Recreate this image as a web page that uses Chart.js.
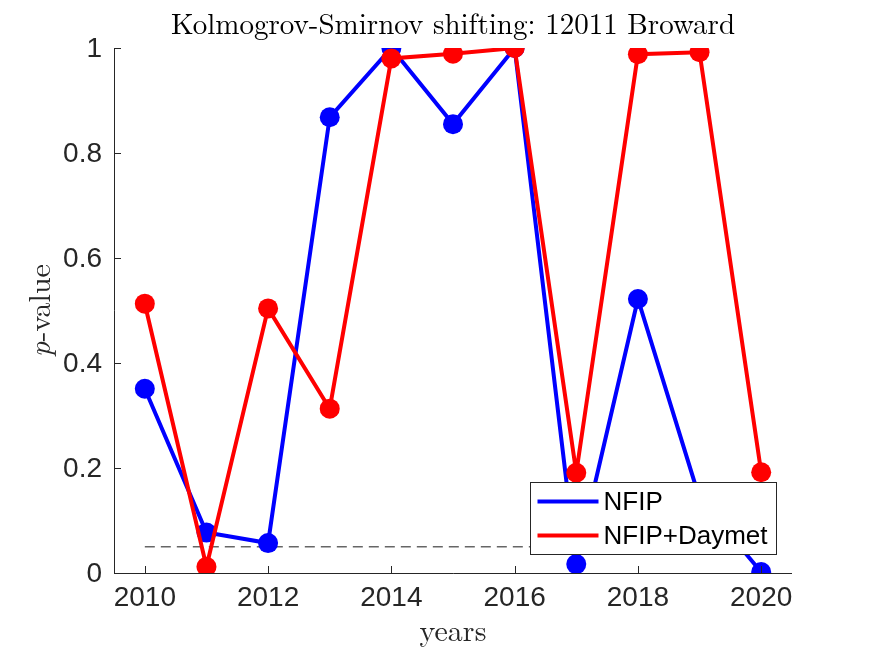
<!DOCTYPE html>
<html>
<head>
<meta charset="utf-8">
<script src="https://cdn.jsdelivr.net/npm/chart.js@4.4.0/dist/chart.umd.min.js"></script>
<style>
  html, body { margin: 0; padding: 0; background: #fff; }
  #wrap { width: 875px; height: 656px; }
</style>
</head>
<body>
<div id="wrap"><canvas id="c" width="875" height="656"></canvas></div>
<script>
const years = [2010, 2011, 2012, 2013, 2014, 2015, 2016, 2017, 2018, 2019, 2020];
const nfip = [0.351, 0.077, 0.057, 0.868, 1.0, 0.855, 1.0, 0.017, 0.522, 0.142, 0.002];
const nfipDaymet = [0.513, 0.012, 0.504, 0.313, 0.980, 0.989, 1.0, 0.191, 0.988, 0.992, 0.192];
const thresholdLevel = [0.05, 0.05];
const thresholdYears = [2010, 2020];
const xTicks = [2010, 2012, 2014, 2016, 2018, 2020];
const yTicks = [0, 0.2, 0.4, 0.6, 0.8, 1];
const yTickLabels = ['0', '0.2', '0.4', '0.6', '0.8', '1'];
const titleText = 'Kolmogrov-Smirnov shifting: 12011 Broward';
const xLabel = 'years';
const yLabelItalic = 'p';
const yLabelRest = '-value';
const seriesNames = ['NFIP', 'NFIP+Daymet'];

const AXIS = '#262626';
const SANS = '"Liberation Sans", Arial, sans-serif';
const SERIF = '"Latin Modern Roman", "CMU Serif", "DejaVu Serif", "Liberation Serif", serif';

const toXY = (xs, ys) => xs.map((x, i) => ({x: x, y: ys[i]}));

const decor = {
  id: 'decor',
  afterDraw(chart) {
    const ctx = chart.ctx;
    const a = chart.chartArea;
    const xs = chart.scales.x, ys = chart.scales.y;
    ctx.save();
    // axes lines
    ctx.strokeStyle = AXIS; ctx.lineWidth = 1;
    ctx.beginPath();
    ctx.moveTo(a.left + 0.5, a.top); ctx.lineTo(a.left + 0.5, a.bottom + 0.5);
    ctx.lineTo(a.right, a.bottom + 0.5);
    ctx.stroke();
    // inward ticks
    ctx.beginPath();
    xTicks.forEach(v => { const px = Math.round(xs.getPixelForValue(v)) + 0.5; ctx.moveTo(px, a.bottom); ctx.lineTo(px, a.bottom - 7); });
    yTicks.forEach(v => { const py = Math.round(ys.getPixelForValue(v)) + 0.5; ctx.moveTo(a.left, py); ctx.lineTo(a.left + 7, py); });
    ctx.stroke();
    // tick labels
    ctx.fillStyle = AXIS;
    ctx.font = '28px ' + SANS;
    ctx.textAlign = 'center'; ctx.textBaseline = 'top';
    xTicks.forEach(v => ctx.fillText(String(v), xs.getPixelForValue(v), a.bottom + 11));
    ctx.textAlign = 'right'; ctx.textBaseline = 'middle';
    yTicks.forEach((v, i) => ctx.fillText(yTickLabels[i], a.left - 12, ys.getPixelForValue(v) + 1));
    // title
    ctx.fillStyle = '#000';
    ctx.font = '29px ' + SERIF;
    ctx.textAlign = 'center'; ctx.textBaseline = 'alphabetic';
    ctx.fillText(titleText, (a.left + a.right) / 2, 34);
    // x label
    ctx.fillStyle = AXIS;
    ctx.font = '30px ' + SERIF;
    ctx.fillText(xLabel, (a.left + a.right) / 2, 641);
    // y label
    ctx.save();
    ctx.translate(50, (a.top + a.bottom) / 2);
    ctx.rotate(-Math.PI / 2);
    ctx.font = 'italic 30px ' + SERIF;
    const w1 = ctx.measureText(yLabelItalic).width;
    ctx.font = '30px ' + SERIF;
    const w2 = ctx.measureText(yLabelRest).width;
    const start = -(w1 + w2) / 2;
    ctx.textAlign = 'left';
    ctx.font = 'italic 30px ' + SERIF;
    ctx.fillText(yLabelItalic, start, 0);
    ctx.font = '30px ' + SERIF;
    ctx.fillText(yLabelRest, start + w1, 0);
    ctx.restore();
    // legend
    const lx = 530.5, ly = 482.5, lw = 246, lh = 72;
    ctx.fillStyle = '#fff';
    ctx.fillRect(lx, ly, lw, lh);
    ctx.strokeStyle = AXIS; ctx.lineWidth = 1;
    ctx.strokeRect(lx, ly, lw, lh);
    const ds = chart.data.datasets;
    [0, 1].forEach(i => {
      const yy = ly + 19 + i * 34;
      ctx.strokeStyle = ds[i].borderColor; ctx.lineWidth = 4;
      ctx.beginPath(); ctx.moveTo(lx + 7, yy); ctx.lineTo(lx + 68, yy); ctx.stroke();
      ctx.fillStyle = '#000';
      ctx.font = '26px ' + SANS;
      ctx.textAlign = 'left'; ctx.textBaseline = 'middle';
      ctx.fillText(ds[i].label, lx + 73, yy + 1);
    });
    ctx.restore();
  }
};

new Chart(document.getElementById('c'), {
  type: 'line',
  data: {
    datasets: [
      {
        label: seriesNames[0],
        data: toXY(years, nfip),
        borderColor: '#0000ff', backgroundColor: '#0000ff',
        borderWidth: 4, pointRadius: 10, pointBorderWidth: 0,
        pointBackgroundColor: '#0000ff', tension: 0, order: 2
      },
      {
        label: seriesNames[1],
        data: toXY(years, nfipDaymet),
        borderColor: '#ff0000', backgroundColor: '#ff0000',
        borderWidth: 4, pointRadius: 10, pointBorderWidth: 0,
        pointBackgroundColor: '#ff0000', tension: 0, order: 1
      },
      {
        label: 'threshold',
        data: toXY(thresholdYears, thresholdLevel),
        borderColor: '#666666', borderWidth: 1.5, borderDash: [10, 6],
        pointRadius: 0, order: 3
      }
    ]
  },
  options: {
    responsive: false,
    animation: false,
    layout: { padding: { left: 0, right: 83, top: 48, bottom: 0 } },
    plugins: { legend: { display: false }, title: { display: false }, tooltip: { enabled: false } },
    scales: {
      x: {
        type: 'linear', min: 2009.5, max: 2020.5,
        grid: { display: false, drawTicks: false },
        border: { display: false },
        ticks: { display: false },
        afterBuildTicks: s => { s.ticks = xTicks.map(v => ({value: v})); },
        afterFit: s => { s.height = 83; }
      },
      y: {
        type: 'linear', min: 0, max: 1,
        grid: { display: false, drawTicks: false },
        border: { display: false },
        ticks: { display: false },
        afterBuildTicks: s => { s.ticks = yTicks.map(v => ({value: v})); },
        afterFit: s => { s.width = 114; }
      }
    }
  },
  plugins: [decor]
});
</script>
</body>
</html>
